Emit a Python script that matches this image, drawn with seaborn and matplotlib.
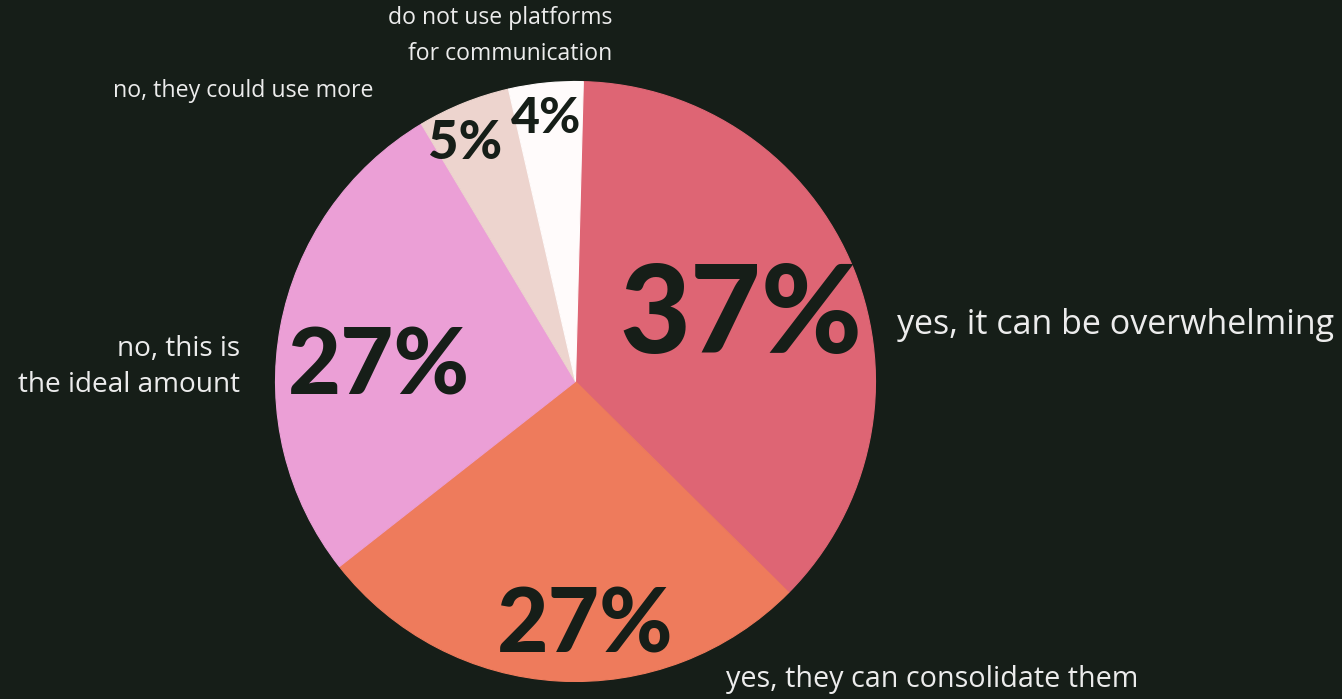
import matplotlib
matplotlib.use("Agg")
import matplotlib.pyplot as plt
import numpy as np
import seaborn as sns

# Survey: does the number of communication platforms feel like too many?
categories = [
    "yes, it can be overwhelming",
    "yes, they can consolidate them",
    "no, this is\nthe ideal amount",
    "no, they could use more",
    "do not use platforms\nfor communication",
]
shares = [37, 27, 27, 5, 4]
pct_labels = ["37%", "27%", "27%", "5%", "4%"]

BG = "#161e18"
INK = "#161e18"
TEXT = "#ececec"
palette = ["#de6574", "#ee7b5c", "#eb9fd6", "#edd4ce", "#fffbfb"]

sns.set_theme(style="white", rc={"figure.facecolor": BG, "axes.facecolor": BG})
plt.rcParams["font.family"] = ["Open Sans", "DejaVu Sans"]

W, H = 1342, 699
fig = plt.figure(figsize=(W / 100, H / 100), dpi=100)
ax = fig.add_axes([0, 0, 1, 1])

cx, cy, R = 575.5, H - 381.5, 300
wedges, _ = ax.pie(
    shares,
    colors=sns.color_palette(palette),
    startangle=88.5,
    counterclock=False,
    center=(cx, cy),
    radius=R,
    frame=True,
)
# edge each wedge in its own colour so no seams show between slices
for w in wedges:
    w.set_edgecolor(w.get_facecolor())
    w.set_linewidth(0.8)

ax.set_xlim(0, W)
ax.set_ylim(0, H)
ax.set_aspect("equal")
ax.axis("off")

# percentage labels inside each wedge: (radial fraction, angle shift, size)
pct_style = [(0.591, -0.9, 88), (0.816, 5.5, 64), (0.657, 6.6, 66),
             (0.876, 3.0, 38), (0.883, 0.7, 36)]
for w, lab, (rf, dshift, fs) in zip(wedges, pct_labels, pct_style):
    ang = np.deg2rad((w.theta1 + w.theta2) / 2 + dshift)
    x = cx + rf * R * np.cos(ang)
    y = cy + rf * R * np.sin(ang)
    ax.text(x, y, lab, ha="center", va="center", fontsize=fs,
            fontweight="black", color=INK, family=["Lato", "DejaVu Sans"])

# category labels around the pie: (x, y from top, alignment, size, line spacing)
cat_style = [
    (897, 325, "left", 24.5, 1.2),
    (726, 680, "left", 20.7, 1.2),
    (240, 367, "right", 20.2, 1.4),
    (113, 91, "left", 16.7, 1.2),
    (612, 36, "right", 16.6, 1.7),
]
for lab, (x, ytop, ha, fs, ls) in zip(categories, cat_style):
    ax.text(x, H - ytop, lab, ha=ha, va="center", multialignment=ha,
            fontsize=fs, color=TEXT, linespacing=ls)

fig.savefig("out.png", dpi=100, facecolor=BG)
